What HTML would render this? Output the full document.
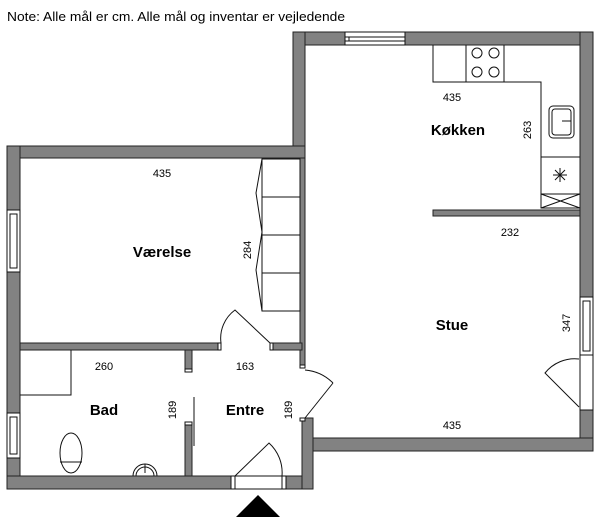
<!DOCTYPE html>
<html><head><meta charset="utf-8"><style>
html,body{margin:0;padding:0;background:#fff;}
svg{display:block;font-family:"Liberation Sans",sans-serif;}
.w{fill:#828282;stroke:#222;stroke-width:1}
.l{fill:none;stroke:#111;stroke-width:1}
.wh{fill:#fff;stroke:#111;stroke-width:1}
.b{font-weight:bold;font-size:15px;text-anchor:middle}
.n{font-size:11px;text-anchor:middle}
</style></head><body>
<svg width="600" height="522" viewBox="0 0 600 522">
<text x="7" y="21" font-size="13" textLength="338" lengthAdjust="spacingAndGlyphs">Note: Alle mål er cm. Alle mål og inventar er vejledende</text>
<rect class="w" x="293" y="32" width="300" height="13"/>
<rect class="w" x="293" y="32" width="12" height="126"/>
<rect class="w" x="580" y="32" width="13" height="419"/>
<rect class="w" x="7" y="146" width="298" height="12"/>
<rect class="w" x="7" y="146" width="13" height="343"/>
<rect class="w" x="7" y="476" width="306" height="13"/>
<rect class="w" x="302" y="438" width="291" height="13"/>
<rect class="w" x="302" y="418" width="11" height="71"/>
<rect class="w" x="300" y="158" width="5" height="210"/>
<rect class="w" x="20" y="343" width="201" height="7"/>
<rect class="w" x="270" y="343" width="32" height="7"/>
<rect class="w" x="185" y="350" width="7" height="22"/>
<rect class="w" x="185" y="422" width="7" height="54"/>
<rect class="w" x="433" y="210" width="147" height="6"/>
<rect class="wh" x="218" y="343" width="3" height="7"/>
<rect class="wh" x="270" y="343" width="3" height="7"/>
<rect class="wh" x="185" y="369" width="7" height="3"/>
<rect class="wh" x="185" y="422" width="7" height="3"/>
<rect class="wh" x="300" y="365" width="5" height="3"/>
<rect class="wh" x="300" y="418" width="5" height="3"/>
<rect class="wh" x="345" y="32" width="60" height="13"/>
<line class="l" x1="345" y1="37" x2="405" y2="37"/><line class="l" x1="345" y1="41" x2="405" y2="41"/><line class="l" x1="349" y1="37" x2="349" y2="41"/>
<rect class="wh" x="7" y="210" width="13" height="62"/>
<rect class="wh" x="10" y="214" width="7" height="54"/>
<rect class="wh" x="7" y="413" width="13" height="45"/>
<rect class="wh" x="10" y="417" width="7" height="37"/>
<rect class="wh" x="580" y="297" width="13" height="58"/>
<rect class="wh" x="583" y="301" width="7" height="50"/>
<rect class="wh" x="580" y="355" width="13" height="55"/>
<rect class="wh" x="231" y="476" width="55" height="13"/>
<line class="l" x1="235" y1="476" x2="235" y2="489"/><line class="l" x1="282" y1="476" x2="282" y2="489"/>
<path class="l" d="M270 343 L235 310 A35 35 0 0 0 221 343"/>
<path class="l" d="M305 418 L333 383 M305 370 A45 45 0 0 1 333 383"/>
<path class="l" d="M579 407 L545 373 A38 38 0 0 1 579 359"/>
<path class="l" d="M235 476 L269 443 A40 40 0 0 1 282 476"/>
<line class="l" x1="194" y1="397" x2="194" y2="446"/>
<polygon points="236,517 280,517 258,495" fill="#000"/>
<path class="l" d="M433 45 L433 82 L541 82 L541 208 L580 208"/>
<line class="l" x1="466" y1="45" x2="466" y2="82"/><line class="l" x1="504" y1="45" x2="504" y2="82"/>
<circle class="l" cx="477" cy="53" r="5"/><circle class="l" cx="494" cy="53" r="5"/>
<circle class="l" cx="477" cy="72" r="5"/><circle class="l" cx="494" cy="72" r="5"/>
<rect class="l" x="549" y="106" width="25" height="32" rx="4"/>
<rect class="l" x="552" y="109" width="19" height="26" rx="3"/>
<line class="l" x1="562" y1="121" x2="571" y2="121"/>
<line class="l" x1="541" y1="157" x2="580" y2="157"/>
<line class="l" x1="541" y1="194" x2="580" y2="194"/>
<line class="l" x1="541" y1="194" x2="580" y2="208"/><line class="l" x1="541" y1="208" x2="580" y2="194"/>
<path class="l" d="M560 168v14M553 175h14M555 170l10 10M565 170l-10 10"/>
<rect class="l" x="262" y="159" width="38" height="152"/>
<line class="l" x1="262" y1="197" x2="300" y2="197"/><line class="l" x1="262" y1="235" x2="300" y2="235"/><line class="l" x1="262" y1="273" x2="300" y2="273"/>
<path class="l" d="M262 159 L256 193 L262 232 L256 270 L262 311"/>
<path class="l" d="M20 395 L71 395 L71 350"/>
<ellipse class="l" cx="71" cy="453" rx="11" ry="20"/>
<line class="l" x1="60" y1="462" x2="82" y2="462"/>
<path class="l" d="M133 476 A12 12 0 1 1 157 476"/>
<path class="l" d="M136 476 A9 9 0 1 1 154 476"/>
<line class="l" x1="145" y1="464" x2="145" y2="473"/>
<text class="b" x="458" y="135">Køkken</text>
<text class="b" x="162" y="257">Værelse</text>
<text class="b" x="452" y="330">Stue</text>
<text class="b" x="104" y="415">Bad</text>
<text class="b" x="245" y="415">Entre</text>
<text class="n" x="452" y="101">435</text>
<text class="n" x="162" y="177">435</text>
<text class="n" x="510" y="236">232</text>
<text class="n" x="104" y="370">260</text>
<text class="n" x="245" y="370">163</text>
<text class="n" x="452" y="429">435</text>
<text class="n" transform="translate(531,130) rotate(-90)">263</text>
<text class="n" transform="translate(251,250) rotate(-90)">284</text>
<text class="n" transform="translate(570,323) rotate(-90)">347</text>
<text class="n" transform="translate(176,410) rotate(-90)">189</text>
<text class="n" transform="translate(292,410) rotate(-90)">189</text>
</svg>
</body></html>
